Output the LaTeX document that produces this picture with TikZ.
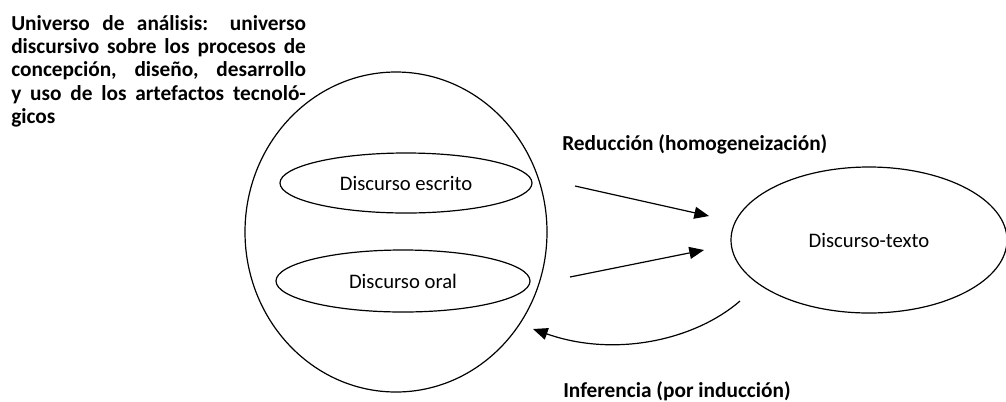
\documentclass[tikz,border=0pt]{standalone}
\usepackage{fontspec}
\setmainfont{Carlito}
\usetikzlibrary{shapes.geometric,arrows.meta,positioning}
\tikzset{every node/.append style={font=\fontsize{15.5}{17.5}\selectfont}}
\tikzset{
  bubble/.style={draw, ellipse, line width=0.9pt, inner sep=0pt},
  flow/.style={line width=0.9pt, -{Triangle[length=11pt,width=9pt]}},
  tag/.style={inner sep=0pt, font=\fontsize{16}{17.5}\selectfont\bfseries}
}

\begin{document}
\begin{tikzpicture}[x=0.75pt, y=-0.75pt]
  \useasboundingbox (0,0) rectangle (1006,401);

  \node[tag, anchor=north west, text width=221pt, align=justify] (universe) at (11,15)
    {Universo de análisis: universo\linebreak discursivo sobre los procesos de\linebreak concepción, diseño, desarrollo\linebreak y uso de los artefactos tecnoló-\linebreak gicos};

  % left side
  \node[bubble, minimum width=226.5pt, minimum height=240pt] (corpus) at (396,232) {};
  \node[bubble, minimum width=189pt, minimum height=45pt] (written) at (406,183) {Discurso escrito};
  \node[bubble, minimum width=190.5pt, minimum height=46.5pt] (oral) at (403,281) {Discurso oral};

  % right side
  \node[bubble, minimum width=207pt, minimum height=109.5pt] (text) at (869,240) {Discurso-texto};

  \coordinate (w out) at (575,186);
  \coordinate (w in) at (709,216);
  \coordinate (o out) at (570,277);
  \coordinate (o in) at (704,250);
  \coordinate (t out) at (740,301);
  \coordinate (t in) at (533,329);

  \draw[flow] (w out) -- (w in);
  \draw[flow] (o out) -- (o in);
  \draw[flow] (t out) .. controls (695,340) and (615,358) .. (t in);

  \node[tag, anchor=base west] (reduction) at (562,150) {Reducción (homogeneización)};
  \node[tag, anchor=base west] (inference) at (563,397) {Inferencia (por inducción)};
\end{tikzpicture}
\end{document}
